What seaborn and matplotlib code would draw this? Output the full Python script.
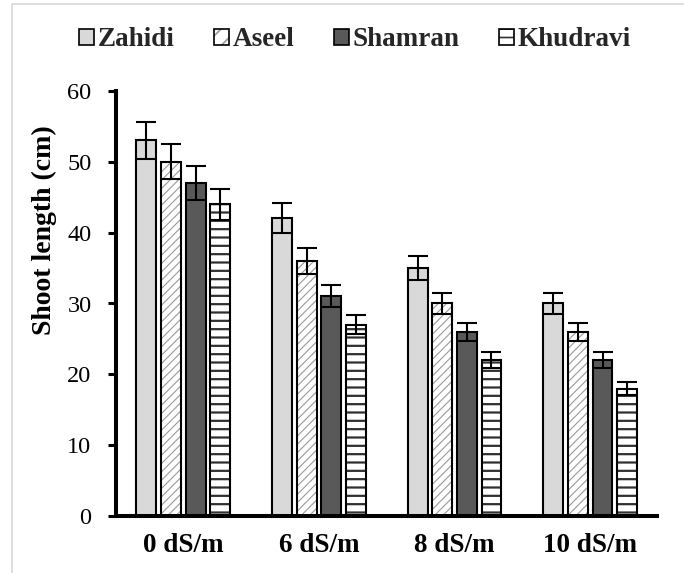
import numpy as np
import pandas as pd
import matplotlib
matplotlib.use("Agg")
import matplotlib.pyplot as plt
from matplotlib.patches import Patch
from matplotlib.lines import Line2D
from matplotlib.colors import to_rgba
import seaborn as sns

# Shoot length of four date-palm cultivars under salinity stress
salinity = ["0 dS/m", "6 dS/m", "8 dS/m", "10 dS/m"]
cultivars = ["Zahidi", "Aseel", "Shamran", "Khudravi"]

zahidi = [53, 42, 35, 30]
aseel = [50, 36, 30, 26]
shamran = [47, 31, 26, 22]
khudravi = [44, 27, 22, 18]

zahidi_err = [2.65, 2.1, 1.75, 1.5]
aseel_err = [2.5, 1.8, 1.5, 1.3]
shamran_err = [2.35, 1.55, 1.3, 1.1]
khudravi_err = [2.2, 1.35, 1.1, 0.9]

y_ticks = [0, 10, 20, 30, 40, 50, 60]

means = [zahidi, aseel, shamran, khudravi]
errors = [zahidi_err, aseel_err, shamran_err, khudravi_err]

df = pd.DataFrame(
    [(s, c, v) for c, vals in zip(cultivars, means) for s, v in zip(salinity, vals)],
    columns=["Salinity", "Cultivar", "Length"],
)

sns.set_theme(style="white")
plt.rcParams["font.family"] = ["Liberation Serif", "DejaVu Serif"]
plt.rcParams["hatch.linewidth"] = 1.2

faces = {"Zahidi": "#d9d9d9", "Aseel": "#ffffff", "Shamran": "#595959", "Khudravi": "#ffffff"}
hatches = {"Zahidi": "", "Aseel": "////", "Shamran": "", "Khudravi": "--"}
legend_hatches = {"Zahidi": "", "Aseel": "//", "Shamran": "", "Khudravi": "--"}
hatch_colors = {"Zahidi": "black", "Aseel": "#9a9a9a", "Shamran": "black", "Khudravi": "#303030"}
hatch_widths = {"Zahidi": 1.0, "Aseel": 0.8, "Shamran": 1.0, "Khudravi": 1.6}

W, H = 684, 573
fig = plt.figure(figsize=(W / 100, H / 100), dpi=100)
fig.patch.set_facecolor("white")
ax = fig.add_axes([115.5 / W, 56.7 / H, 541.2 / W, 425.6 / H])


def style_patch(p, name, pattern):
    p.set_hatch(pattern)
    if hasattr(p, "set_hatchcolor"):
        p.set_hatchcolor(hatch_colors[name])
    else:
        p._hatch_color = to_rgba(hatch_colors[name])
    if hasattr(p, "set_hatch_linewidth"):
        p.set_hatch_linewidth(hatch_widths[name])


sns.barplot(
    data=df, x="Salinity", y="Length", hue="Cultivar",
    order=salinity, hue_order=cultivars, palette=faces, saturation=1,
    width=0.725, gap=0.19, edgecolor="black", linewidth=1.5,
    errorbar=None, legend=False, ax=ax, zorder=2,
)

for cont, name, err in zip(ax.containers, cultivars, errors):
    xs, hs = [], []
    for bar in cont:
        style_patch(bar, name, hatches[name])
        xs.append(bar.get_x() + bar.get_width() / 2)
        hs.append(bar.get_height())
    ax.errorbar(xs, hs, yerr=err, fmt="none", ecolor="black",
                elinewidth=1.5, capsize=7.5, capthick=1.5, zorder=3)

ax.set_xlim(-0.5, 3.49)
ax.set_ylim(0, 60)
ax.set_yticks(y_ticks)
ax.set_yticklabels([str(t) for t in y_ticks])

for side in ("top", "right"):
    ax.spines[side].set_visible(False)
for side in ("left", "bottom"):
    ax.spines[side].set_linewidth(2.9)
    ax.spines[side].set_color("black")

ax.tick_params(axis="y", direction="out", length=5.8, width=2.2, pad=11.5,
               labelsize=17.5, colors="black", left=True)
ax.tick_params(axis="x", length=0, pad=12, labelsize=19.5, colors="black")
for lab in ax.get_xticklabels():
    lab.set_fontweight("bold")

ax.set_xlabel("")
ax.set_ylabel("Shoot length (cm)", fontsize=20, fontweight="bold", color="black")
ax.yaxis.label.set_verticalalignment("center")
ax.yaxis.set_label_coords((44 - 115.5) / 541.2, (516.3 - 230) / 425.6)

# Legend across the top
handles = []
for name in cultivars:
    h = Patch(facecolor=faces[name], edgecolor="black", linewidth=1.2)
    style_patch(h, name, legend_hatches[name])
    handles.append(h)
fig.legend(handles, cultivars, loc="center", bbox_to_anchor=(355 / W, 1 - 40 / H),
           ncol=4, frameon=False, prop={"weight": "bold", "size": 19.5},
           handlelength=0.55, handleheight=0.55, handletextpad=0.15,
           columnspacing=1.45, borderaxespad=0, borderpad=0)

# Light frame around the chart area
fig.add_artist(Line2D([12 / W, 12 / W], [0, 1 - 4 / H], color="#d9d9d9", lw=1.2,
                      transform=fig.transFigure))
fig.add_artist(Line2D([12 / W, 1], [1 - 4 / H, 1 - 4 / H], color="#d9d9d9", lw=1.2,
                      transform=fig.transFigure))

fig.savefig("out.png", dpi=100, facecolor="white")
